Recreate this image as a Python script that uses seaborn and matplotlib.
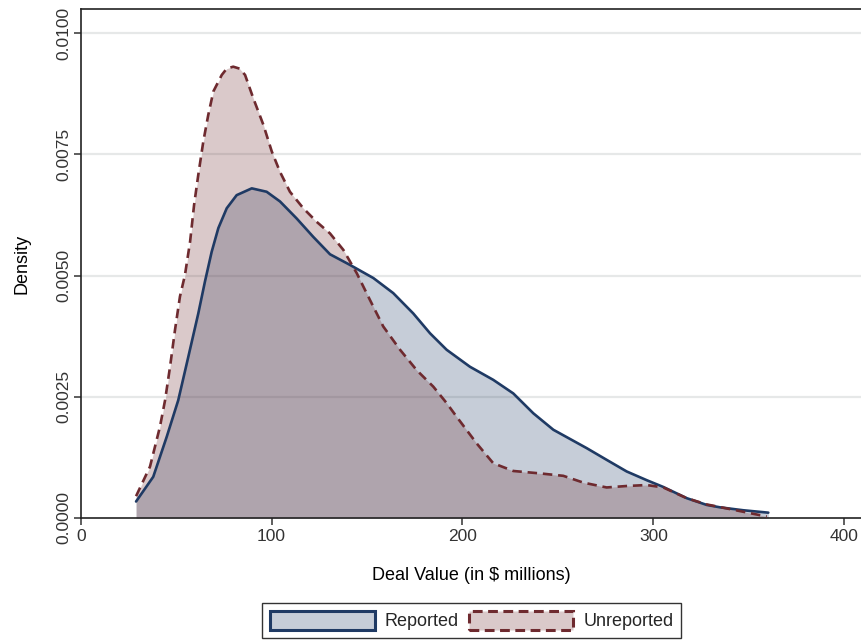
import numpy as np
import pandas as pd
import matplotlib
matplotlib.use("Agg")
import matplotlib.pyplot as plt
import seaborn as sns
from matplotlib.patches import Patch
from matplotlib.colors import to_rgba

# ---- data (x in $ millions, density) ----
rep_x = [29.0, 38.0, 45.1, 51.1, 56.4, 61.6, 65.1, 68.6, 72.1, 76.5, 81.7, 89.6,
         97.4, 104.4, 113.1, 121.8, 130.6, 141.1, 153.3, 163.7, 174.2, 183.0,
         191.7, 203.9, 216.1, 226.6, 237.1, 247.6, 265.1, 275.5, 286.0, 296.5,
         305.2, 317.4, 327.9, 334.9, 347.0, 360.2]
rep_y = [0.00034, 0.00085, 0.00168, 0.00243, 0.00333, 0.00422, 0.00488, 0.00549,
         0.00598, 0.00639, 0.00666, 0.00680, 0.00673, 0.00653, 0.00618, 0.00580,
         0.00544, 0.00522, 0.00495, 0.00464, 0.00422, 0.00381, 0.00347, 0.00312,
         0.00285, 0.00257, 0.00216, 0.00182, 0.00144, 0.00120, 0.00096, 0.00078,
         0.00064, 0.00041, 0.00027, 0.00022, 0.00016, 0.00011]

unrep_x = [29.0, 36.3, 41.5, 44.2, 46.8, 49.4, 52.0, 54.6, 57.3, 59.4, 61.6, 64.2,
           66.8, 69.5, 73.9, 76.5, 79.9, 83.2, 86.1, 90.4, 95.7, 100.1, 104.4,
           109.6, 116.6, 123.6, 130.6, 137.6, 144.6, 151.5, 158.5, 167.3, 176.0,
           184.7, 191.7, 196.9, 207.4, 216.1, 226.6, 240.6, 252.8, 263.3, 275.5,
           286.0, 296.5, 305.2, 317.4, 327.9, 341.9, 359.4]
unrep_y = [0.00045, 0.00106, 0.00188, 0.00243, 0.00312, 0.00388, 0.00457, 0.00501,
           0.00570, 0.00646, 0.00708, 0.00776, 0.00831, 0.00880, 0.00914, 0.00927,
           0.00931, 0.00927, 0.00914, 0.00866, 0.00811, 0.00756, 0.00714, 0.00673,
           0.00639, 0.00611, 0.00587, 0.00553, 0.00505, 0.00450, 0.00395, 0.00347,
           0.00305, 0.00271, 0.00237, 0.00209, 0.00154, 0.00113, 0.00097, 0.00092,
           0.00087, 0.00073, 0.00063, 0.00066, 0.00068, 0.00063, 0.00041, 0.00028,
           0.00017, 0.00003]

groups = ["Reported", "Unreported"]
x_ticks = [0, 100, 200, 300, 400]
y_ticks = [0.0, 0.0025, 0.0050, 0.0075, 0.0100]
y_tick_labels = ["0.0000", "0.0025", "0.0050", "0.0075", "0.0100"]

# ---- styling ----
navy = "#1f3a64"
maroon = "#6e2a2f"
fill_alpha = 0.25

sns.set_style("white")
plt.rcParams["font.family"] = ["Liberation Sans", "DejaVu Sans"]

df = pd.concat([
    pd.DataFrame({"x": rep_x, "y": rep_y, "group": groups[0]}),
    pd.DataFrame({"x": unrep_x, "y": unrep_y, "group": groups[1]}),
], ignore_index=True)

fig = plt.figure(figsize=(8.62, 6.43), dpi=100)
ax = fig.add_axes([80.7 / 862, 1 - 518 / 643, 1 - 80.7 / 862, (518 - 9) / 643])

# gridlines
for yv in y_ticks[1:]:
    ax.axhline(yv, color="#e6e8e8", lw=1.6, zorder=0)

ax.fill_between(rep_x, rep_y, 0, color=navy, alpha=fill_alpha, lw=0, zorder=1)
ax.fill_between(unrep_x, unrep_y, 0, color=maroon, alpha=fill_alpha, lw=0, zorder=2)

sns.lineplot(data=df, x="x", y="y", hue="group", style="group",
             palette={groups[0]: navy, groups[1]: maroon},
             dashes={groups[0]: "", groups[1]: (3.6, 2.2)},
             estimator=None, sort=False, lw=1.9, legend=False, ax=ax, zorder=3)
for ln in ax.lines:
    ln.set_solid_capstyle("round")
    ln.set_solid_joinstyle("round")
    ln.set_dash_joinstyle("round")

ax.set_xlim(0, (862 - 80.7) / 1.909)
ax.set_ylim(0, 0.0105)
ax.set_xticks(x_ticks)
ax.set_xticklabels([str(t) for t in x_ticks])
ax.set_yticks(y_ticks)
ax.set_yticklabels(y_tick_labels, rotation=90, va="center")

ax.tick_params(axis="both", direction="out", length=5, width=1.1, color="#333333",
               labelsize=12.5, labelcolor="#333333", pad=2)
ax.tick_params(axis="x", bottom=True, pad=3)
ax.tick_params(axis="y", left=True)

for side in ["left", "top", "bottom"]:
    ax.spines[side].set_color("#222222")
    ax.spines[side].set_linewidth(1.2)
ax.spines["right"].set_visible(False)

ax.set_xlabel("Deal Value (in $ millions)", fontsize=13, color="black")
ax.set_ylabel("Density", fontsize=13, color="black")
ax.xaxis.set_label_coords(0.5, (518 - 575) / 509)
ax.yaxis.set_label_coords((22 - 80.7) / (862 - 80.7), 0.5)
ax.xaxis.label.set_va("center")
ax.yaxis.label.set_va("center")

handles = [
    Patch(facecolor=to_rgba(navy, fill_alpha), edgecolor=navy, lw=2.2),
    Patch(facecolor=to_rgba(maroon, fill_alpha), edgecolor=maroon, lw=2.2,
          linestyle=(0, (3.2, 1.8))),
]

leg = fig.legend(handles, groups, loc="center", bbox_to_anchor=(471.7 / 862, 1 - 620.5 / 643),
                 ncol=2, frameon=True, fancybox=False, edgecolor="black",
                 fontsize=13, handlelength=5.8, handleheight=1.27, handletextpad=0.55,
                 columnspacing=0.55, borderpad=0.42, borderaxespad=0)
leg.get_frame().set_linewidth(1.0)

fig.savefig("out.png", dpi=100)
